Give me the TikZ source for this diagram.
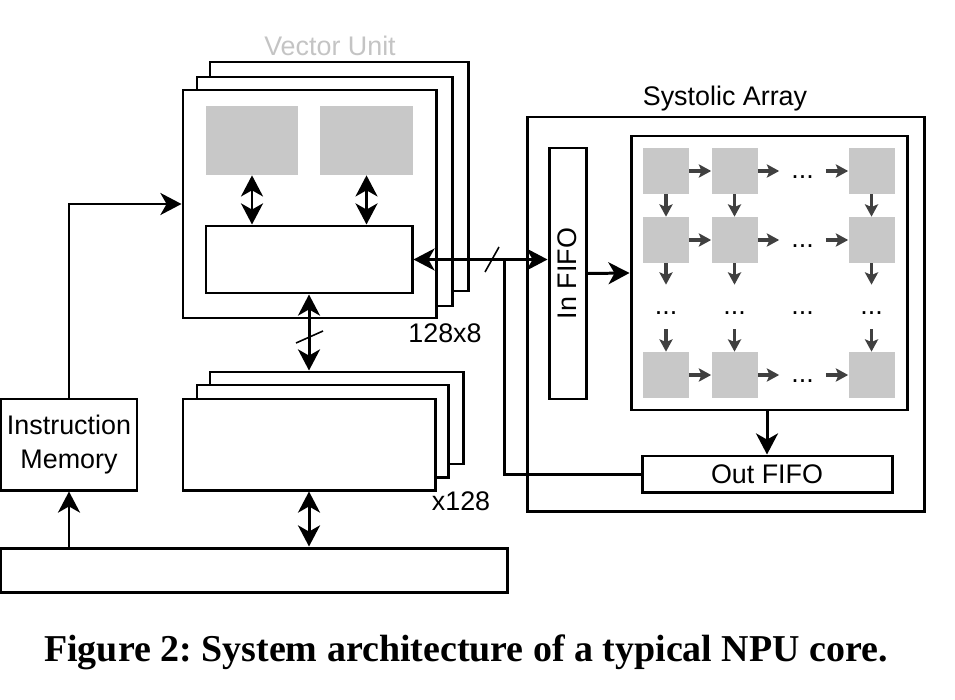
\documentclass[tikz,border=0pt]{standalone}
\usepackage{fontspec}
\setmainfont{Liberation Sans}
\newfontfamily\capfont{Liberation Serif}
\usetikzlibrary{arrows.meta}

\definecolor{cellgray}{HTML}{C8C8C8}
\definecolor{titlegray}{HTML}{C4C4C4}
\definecolor{arrowgray}{HTML}{404040}

\newlength\pxl
\setlength\pxl{0.02cm}

\begin{document}
\begin{tikzpicture}[x=0.02cm,y=-0.02cm,
  font=\fontsize{15.3}{19.3}\selectfont,
  box/.style={draw,line width=1.7pt,fill=white,inner sep=0pt},
  cell/.style={fill=cellgray,inner sep=0pt,minimum size=46\pxl},
  dots/.style={inner sep=0pt,minimum size=46\pxl,text height=14\pxl,text depth=0pt},
  link/.style={line width=1.7pt,-{Stealth[length=12pt,width=12.5pt,inset=3.5pt]}},
  both/.style={line width=1.7pt,{Stealth[length=12pt,width=12.5pt,inset=3.5pt]}-{Stealth[length=12pt,width=12.5pt,inset=3.5pt]}},
  pearrow/.style={line width=2pt,draw=arrowgray,-{Stealth[length=7pt,width=7.5pt,inset=1.5pt]}},
  bar/.style={line width=0.9pt}]

\useasboundingbox (0,0) rectangle (955,699);

% unite vectorielle

\node[box,minimum width=258\pxl,minimum height=229\pxl] (vback) at (339,176.5) {};
\node[box,minimum width=255\pxl,minimum height=229\pxl] (vmid) at (324.5,191.5) {};
\node[box,minimum width=253\pxl,minimum height=228\pxl] (vfront) at (309.5,204) {};
\node[fill=cellgray,inner sep=0pt,minimum width=92\pxl,minimum height=69\pxl] (vreg1) at (252,140.5) {};
\node[fill=cellgray,inner sep=0pt,minimum width=93\pxl,minimum height=69\pxl] (vreg2) at (366.5,140.5) {};
\node[box,minimum width=206\pxl,minimum height=67\pxl] (valu) at (309,259.5) {};
\node[text=titlegray] (vtitle) at (330,46) {Vector Unit};
\node (vcount) at (445,333) {128x8};

% memoire locale

\node[box,minimum width=253\pxl,minimum height=92\pxl] (mback) at (336.5,418) {};
\node[box,minimum width=251\pxl,minimum height=92\pxl] (mmid) at (322.5,431) {};
\node[box,minimum width=252\pxl,minimum height=91\pxl] (mfront) at (309,444.5) {};
\node (mcount) at (461,501) {x128};

\node[box,minimum width=136\pxl,minimum height=91\pxl,align=center] (imem) at (69,444.5) {Instruction\\Memory};
\node[box,minimum width=506\pxl,minimum height=44\pxl] (bus) at (254,570) {};

% tableau systolique

\node[box,minimum width=397\pxl,minimum height=394\pxl] (sys) at (725.5,314) {};
\node (systitle) at (725,98.5) {Systolic Array};
\node[box,minimum width=276\pxl,minimum height=274\pxl] (pearr) at (769,273) {};
\node[box,minimum width=37\pxl,minimum height=251\pxl] (infifo) at (567.5,273.5) {};
\node[rotate=90] (infifolbl) at (infifo.center) {In FIFO};
\node[box,minimum width=250\pxl,minimum height=36\pxl] (outfifo) at (767,474) {Out FIFO};

\foreach \r/\y in {1/171,2/240,3/375} {
  \foreach \c/\x in {1/666,2/734.5,3/871.5}
    \node[cell] (pe-\r-\c) at (\x,\y) {};
  \node[dots] (hd-\r) at (802.5,\y) {...};
}
\foreach \c/\x in {1/666,2/734.5,3/871.5}
  \node[dots,minimum height=44\pxl] (vd-\c) at (\x,307) {...};
\node[dots,minimum height=44\pxl] (md) at (802.5,307) {...};

\foreach \r in {1,2,3} {
  \draw[pearrow] (pe-\r-1.east) -- (pe-\r-2.west);
  \draw[pearrow] (pe-\r-2.east) -- (hd-\r.west);
  \draw[pearrow] (hd-\r.east) -- (pe-\r-3.west);
}
\foreach \c in {1,2,3} {
  \draw[pearrow] (pe-1-\c.south) -- (pe-2-\c.north);
  \draw[pearrow] (pe-2-\c.south) -- (vd-\c.north);
  \draw[pearrow] (vd-\c.south) -- (pe-3-\c.north);
}

% liaisons

\draw[both] (vreg1.south) -- (vreg1.south |- valu.north);
\draw[both] (vreg2.south) -- (vreg2.south |- valu.north);
\draw[link] (imem.north) |- (vfront.west);
\draw[both] (valu.east) -- (valu.east -| infifo.west);
\coordinate (tap) at (504,259.5);
\draw[line width=1.7pt] (outfifo.west) -| (tap);
\draw[link] (infifo.east) -- (pearr.west);
\draw[link] (pearr.south -| outfifo.north) -- (outfifo.north);
\draw[both] (valu.south) -- (valu.south |- mback.north);
\draw[both] (mfront.south) -- (mfront.south |- bus.north);
\draw[link] (bus.north -| imem.south) -- (imem.south);

\draw[bar] (485,272) -- (499,247);
\draw[bar] (296,343) -- (323,331);

\node[font=\capfont\bfseries\frenchspacing\fontsize{21.6}{24}\selectfont] (caption) at (466,652) {Figure 2: System architecture of a typical NPU core.};

\end{tikzpicture}
\end{document}
